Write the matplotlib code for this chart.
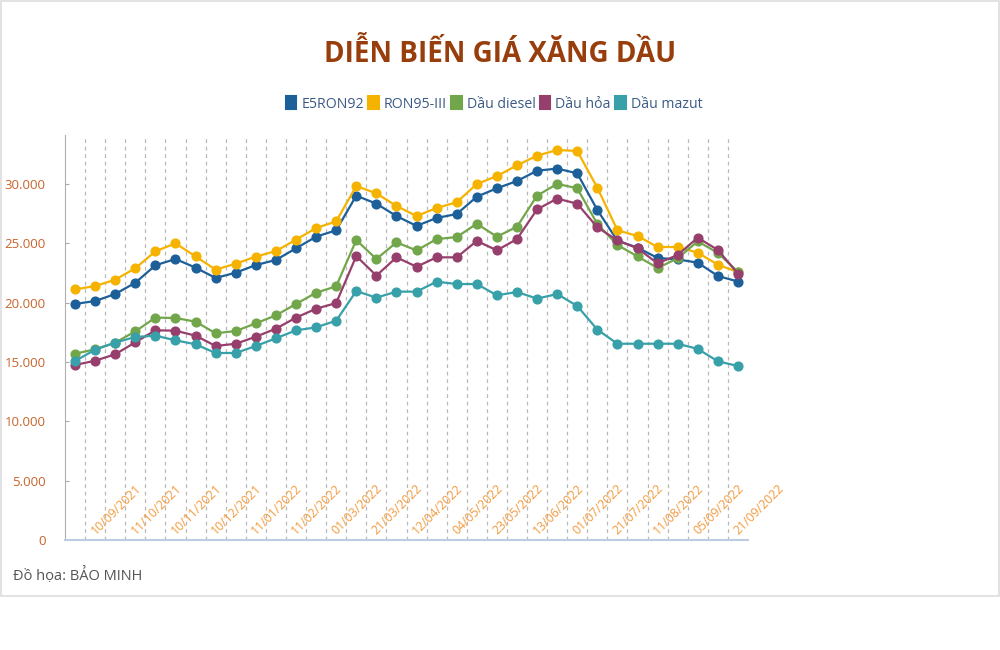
import matplotlib
matplotlib.use("Agg")
import matplotlib.pyplot as plt
from matplotlib.patches import Patch, Rectangle
from matplotlib.ticker import FuncFormatter

# Price adjustment dates (every second one is labelled on the axis)
dates = [
    "26/08/2021", "10/09/2021", "25/09/2021", "11/10/2021", "26/10/2021",
    "10/11/2021", "25/11/2021", "10/12/2021", "25/12/2021", "11/01/2022",
    "26/01/2022", "11/02/2022", "21/02/2022", "01/03/2022", "11/03/2022",
    "21/03/2022", "01/04/2022", "12/04/2022", "25/04/2022", "04/05/2022",
    "11/05/2022", "23/05/2022", "01/06/2022", "13/06/2022", "21/06/2022",
    "01/07/2022", "11/07/2022", "21/07/2022", "01/08/2022", "11/08/2022",
    "22/08/2022", "05/09/2022", "12/09/2022", "21/09/2022",
]

e5ron92 = [19890, 20140, 20730, 21680, 23150, 23680, 22950, 22080, 22530, 23170,
           23600, 24580, 25560, 26100, 29020, 28340, 27300, 26470, 27140, 27470,
           28930, 29640, 30250, 31120, 31300, 30900, 27810, 25220, 24640, 23770,
           23650, 23370, 22250, 21780]
ron95 = [21120, 21400, 21940, 22900, 24330, 25000, 23900, 22780, 23290, 23880,
         24350, 25310, 26290, 26850, 29830, 29210, 28150, 27300, 27980, 28460,
         30000, 30670, 31570, 32390, 32870, 32780, 29690, 26100, 25620, 24690,
         24690, 24210, 23200, 22580]
diesel = [15700, 16070, 16630, 17580, 18740, 18710, 18400, 17420, 17610, 18260,
          18930, 19890, 20840, 21380, 25280, 23680, 25080, 24400, 25360, 25530,
          26650, 25560, 26400, 29020, 30010, 29640, 26630, 24860, 23900, 22920,
          23740, 25170, 24190, 22600]
dau_hoa = [14750, 15110, 15650, 16660, 17670, 17640, 17220, 16350, 16540, 17130,
           17810, 18740, 19490, 19970, 23930, 22280, 23820, 23030, 23820, 23820,
           25200, 24410, 25360, 27860, 28770, 28340, 26350, 25250, 24580, 23310,
           24020, 25480, 24440, 22440]
mazut = [15080, 16040, 16630, 17110, 17220, 16830, 16490, 15760, 15760, 16350,
         17000, 17670, 17920, 18480, 20980, 20420, 20930, 20930, 21770, 21570,
         21570, 20620, 20900, 20340, 20730, 19720, 17730, 16540, 16540, 16540,
         16540, 16100, 15060, 14660]

series = [
    ("E5RON92", e5ron92, "#1d5f98"),
    ("RON95-III", ron95, "#f5b300"),
    ("Dầu diesel", diesel, "#72a64b"),
    ("Dầu hỏa", dau_hoa, "#973f6c"),
    ("Dầu mazut", mazut, "#37a0a9"),
]

plt.rcParams["font.family"] = ["Open Sans", "DejaVu Sans"]

fig = plt.figure(figsize=(10, 6.5), dpi=100)
ax = fig.add_axes([0.065, 1 - 540 / 650, 0.683, 405 / 650])

x = list(range(len(dates)))
for name, values, color in series:
    ax.plot(x, values, color=color, lw=1.6, marker="o", ms=6.3,
            label=name, zorder=3)

ax.set_xlim(-0.5, len(dates) - 0.5)
ax.set_ylim(0, 34130)

# Dashed vertical grid between categories
for k in range(len(dates) - 1):
    ax.axvline(k + 0.5, color="#b8b8b8", lw=0.9, ls=(0, (3, 3)), zorder=1)

# Y axis
ax.set_yticks(range(0, 30001, 5000))
ax.yaxis.set_major_formatter(FuncFormatter(lambda v, p: f"{int(v):,}".replace(",", ".")))
ax.tick_params(axis="y", direction="in", length=3, color="#aaaaaa", pad=14,
               labelsize=9.5, labelcolor="#c8642c")
ax.set_xticks([])

for side in ["top", "right"]:
    ax.spines[side].set_visible(False)
ax.spines["left"].set_color("#b0b0b0")
ax.spines["bottom"].set_color("#bccde3")
ax.spines["bottom"].set_linewidth(1.5)

# Date labels, every second category, drawn inside the plot above the axis
trans = ax.get_xaxis_transform()
for i in range(1, len(dates), 2):
    ax.text(i + 0.12, 0.006, dates[i], transform=trans, rotation=45,
            rotation_mode="anchor", ha="left", va="bottom",
            fontsize=8.8, color="#f29a3c", zorder=4)

# Title
fig.text(0.5, 1 - 54 / 650, "DIỄN BIẾN GIÁ XĂNG DẦU", ha="center", va="center",
         fontsize=20, fontweight="bold", color="#983d0c")

# Legend with small rounded colour blocks
handles = [Patch(facecolor=c, edgecolor=c, lw=1.5, joinstyle="round", label=n)
           for n, _, c in series]
leg = fig.legend(handles=handles, loc="center", bbox_to_anchor=(0.494, 1 - 104 / 650),
                 ncol=5, frameon=False, handlelength=0.75, handleheight=1.0,
                 handletextpad=0.35, columnspacing=0.3, fontsize=10.2)
for t in leg.get_texts():
    t.set_color("#3b5a86")

# Source
fig.text(0.013, 1 - 575 / 650, "Đồ họa: BẢO MINH", ha="left", va="center",
         fontsize=10.5, color="#555555")

# Light border around the chart container
fig.patches.append(Rectangle((0.0005, 1 - 596 / 650), 0.998, 596 / 650 - 0.001,
                             transform=fig.transFigure, fill=False,
                             edgecolor="#dddddd", lw=1.2))

fig.savefig("out.png", dpi=100)
